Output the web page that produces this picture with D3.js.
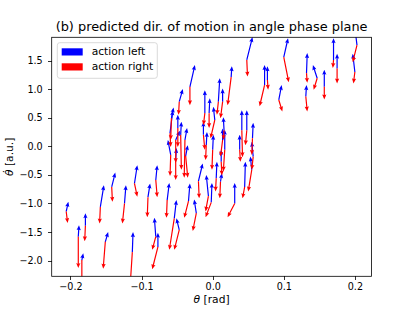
<!DOCTYPE html>
<html>
<head>
<meta charset="utf-8">
<title>predicted dir. of motion</title>
<script src="https://cdn.jsdelivr.net/npm/d3@7"></script>
<style>
  html, body { margin: 0; background: #fff; }
  body { font-family: "DejaVu Sans", sans-serif; }
  .axis path, .axis line { stroke: #000; stroke-width: 0.8; shape-rendering: crispEdges; }
  .axis text { font-size: 9.6px; fill: #000; font-family: "DejaVu Sans", sans-serif; }
</style>
</head>
<body>
<svg width="414" height="311"></svg>
<script>
// state of each sample: angle and angular velocity
var theta = [-0.206,-0.179,-0.189,-0.184,-0.158,-0.142,-0.151,-0.124,-0.110,-0.113,
  -0.091,-0.080,-0.080,-0.077,-0.064,-0.054,-0.047,-0.034,-0.023,-0.020,
  -0.002,-0.006,0.005,0.011,0.031,0.045,0.055,-0.058,-0.060,-0.049,
  -0.052,-0.045,-0.039,-0.059,-0.038,-0.052,-0.032,-0.011,-0.005,0.003,
  0.008,0.014,0.016,-0.013,-0.009,0.014,0.017,0.012,0.000,0.026,
  0.041,0.048,0.056,0.038,0.057,0.048,0.100,0.170,0.203,0.200,
  0.175,0.132,0.147,0.157,0.131,0.093,0.073,0.077,-0.047];
var thetaDot = [-1.14,-1.39,-1.58,-1.99,-1.06,-0.71,-1.67,-1.00,-0.65,-1.85,
  -0.89,-0.59,-1.58,-1.76,-0.94,-1.26,-1.46,-0.96,-1.17,-0.61,
  -0.98,-0.87,-0.56,-0.62,-1.00,-0.71,-0.41,0.49,0.23,0.32,
  0.11,0.20,0.11,-0.15,-0.17,-0.24,1.04,0.58,0.58,0.46,
  0.78,0.78,0.28,0.20,0.02,0.11,-0.06,-0.27,-0.06,1.21,
  0.28,0.28,0.14,-0.06,-0.18,1.51,1.56,1.51,1.77,1.30,
  1.36,1.28,1.19,1.04,0.87,0.81,1.07,1.16,0.78];

// predicted direction for action left
var leftU = [0.003,0,0.001,0.002,0.005,0.005,0.004,0.002,0.004,0.001,
  0.003,0.002,-0.002,0,0.003,0.003,-0.004,0.002,-0.003,0.006,
  0.001,-0.003,0.001,0.002,0,0.001,-0.002,0.003,0.004,0,
  0.006,0.001,0.003,-0.004,0.003,0.001,0.007,0,0.001,-0.002,
  0.002,0,-0.001,0,0.001,0,0,0,0.001,0.001,
  0,0,0.001,0,-0.002,0.008,0.006,0,-0.003,-0.003,
  0,0.001,-0.006,0,0.001,0.004,0,0,0.005];
var leftV = [0.17,0.22,0.20,0.12,0.38,0.25,0.17,0.32,0.32,0.35,
  0.24,0.26,0.33,0.25,0.30,0.32,0.20,0.31,0.24,0.31,
  0.34,0.37,0.29,0.15,0.36,0.44,0.23,0.19,0.40,0.23,
  0.16,0.23,0.21,0.26,0.19,0.21,0.38,0.40,0.26,0.23,
  0.41,0.23,0.23,0.23,0.23,0.20,0.35,0.21,0.26,0.19,
  0.35,0.35,0.27,0.26,0.26,0.40,0.33,0.38,0.30,0.32,
  0.26,0.35,0.23,0.30,0.20,0.26,0.35,0.24,0.22];

// predicted direction for action right
var rightU = [0.002,-0.001,0,0,-0.001,0.001,-0.003,-0.003,0.004,-0.003,
  -0.001,0.002,-0.005,-0.008,-0.001,-0.007,-0.007,-0.006,-0.005,0.001,
  -0.008,-0.004,-0.001,-0.001,-0.010,-0.003,-0.005,-0.001,0.001,0,
  0,0.001,-0.001,-0.001,0.003,0,0,-0.002,0,-0.006,
  -0.002,-0.003,-0.001,0.002,-0.001,-0.003,-0.002,0.001,-0.001,-0.005,
  0.001,-0.002,-0.001,0.001,-0.002,0.001,0.007,-0.001,-0.006,-0.002,
  0,0.001,-0.005,0,0.002,0.005,-0.007,0.001,-0.001];
var rightV = [-0.20,-0.27,-0.55,-0.44,-0.29,-0.26,-0.47,-0.35,-0.23,-0.58,
  -0.35,-0.30,-0.23,-0.39,-0.31,-0.55,-0.35,-0.29,-0.31,-0.30,
  -0.26,-0.27,-0.23,-0.29,-0.24,-0.20,-0.38,-0.38,-0.24,-0.33,
  -0.40,-0.61,-0.66,-0.37,-0.38,-0.35,-0.32,-0.21,-0.26,-0.32,
  -0.23,-0.29,-0.17,-0.26,-0.26,-0.29,-0.38,-0.24,-0.35,-0.49,
  -0.47,-0.26,-0.29,-0.21,-0.23,-0.29,-0.44,-0.14,-0.30,-0.20,
  -0.26,-0.17,-0.20,-0.22,-0.26,-0.20,-0.37,-0.17,-0.23];

var xTicks = [-0.2, -0.1, 0.0, 0.1, 0.2];
var yTicks = [-2.0, -1.5, -1.0, -0.5, 0.0, 0.5, 1.0, 1.5];
var seriesNames = ["action left", "action right"];
var seriesColors = ["#0000ff", "#ff0000"];

var svg = d3.select("svg"),
    margin = {top: 37.3, right: 42.5, bottom: 34.7, left: 51.7},
    width = +svg.attr("width") - margin.left - margin.right,
    height = +svg.attr("height") - margin.top - margin.bottom;

var x = d3.scaleLinear().domain([-0.2264, 0.2234]).range([0, width]),
    y = d3.scaleLinear().domain([-2.273, 1.906]).range([height, 0]);

var g = svg.append("g")
    .attr("transform", "translate(" + margin.left + "," + margin.top + ")");

g.append("clipPath").attr("id", "plotclip")
  .append("rect").attr("width", width).attr("height", height);

// quiver style arrow as a filled polygon
function arrowPath(x0, y0, x1, y1) {
  var dx = x1 - x0, dy = y1 - y0;
  var L = Math.sqrt(dx * dx + dy * dy);
  if (L < 0.01) return "";
  var ux = dx / L, uy = dy / L, nx = -uy, ny = ux;
  var w = 0.6, hw = 2.1, hl = 5, ha = 4.4;
  var s = 1;
  if (L < hl) s = L / hl;
  hl *= s; ha *= s; hw *= s;
  var pts = [
    [x0 + nx * w, y0 + ny * w],
    [x0 + ux * (L - ha) + nx * w, y0 + uy * (L - ha) + ny * w],
    [x0 + ux * (L - hl) + nx * hw, y0 + uy * (L - hl) + ny * hw],
    [x1, y1],
    [x0 + ux * (L - hl) - nx * hw, y0 + uy * (L - hl) - ny * hw],
    [x0 + ux * (L - ha) - nx * w, y0 + uy * (L - ha) - ny * w],
    [x0 - nx * w, y0 - ny * w]
  ];
  return "M" + pts.map(function(p) { return p[0].toFixed(2) + "," + p[1].toFixed(2); }).join("L") + "Z";
}

var idx = d3.range(theta.length);
var arrows = g.append("g").attr("clip-path", "url(#plotclip)");

arrows.selectAll(".left").data(idx).enter().append("path")
  .attr("class", "left")
  .attr("fill", seriesColors[0])
  .attr("d", function(i) {
    return arrowPath(x(theta[i]), y(thetaDot[i]), x(theta[i] + leftU[i]), y(thetaDot[i] + leftV[i]));
  });

arrows.selectAll(".right").data(idx).enter().append("path")
  .attr("class", "right")
  .attr("fill", seriesColors[1])
  .attr("d", function(i) {
    return arrowPath(x(theta[i]), y(thetaDot[i]), x(theta[i] + rightU[i]), y(thetaDot[i] + rightV[i]));
  });

// axes
g.append("g")
  .attr("class", "axis")
  .attr("transform", "translate(0," + height + ")")
  .call(d3.axisBottom(x).tickValues(xTicks).tickFormat(d3.format(".1f")).tickSize(3.5).tickPadding(3.5))
  .call(function(a) { a.select(".domain").remove(); });

g.append("g")
  .attr("class", "axis")
  .call(d3.axisLeft(y).tickValues(yTicks).tickFormat(d3.format(".1f")).tickSize(3.5).tickPadding(5.5))
  .call(function(a) { a.select(".domain").remove(); });

g.append("rect")
  .attr("width", width).attr("height", height)
  .attr("fill", "none").attr("stroke", "#000").attr("stroke-width", 0.8);

// legend
var legend = g.append("g").attr("transform", "translate(5.6,5.4)");
legend.append("rect")
  .attr("width", 100).attr("height", 35.6)
  .attr("rx", 2.5)
  .attr("fill", "#fff").attr("fill-opacity", 0.8)
  .attr("stroke", "#d0d0d0").attr("stroke-width", 0.8);

legend.selectAll(".swatch").data(seriesNames).enter().append("rect")
  .attr("class", "swatch")
  .attr("x", 4.4)
  .attr("y", function(d, i) { return 5.6 + i * 15; })
  .attr("width", 21).attr("height", 7.2)
  .attr("fill", function(d, i) { return seriesColors[i]; });

legend.selectAll(".ltext").data(seriesNames).enter().append("text")
  .attr("class", "ltext")
  .attr("x", 34.4)
  .attr("y", function(d, i) { return 12.8 + i * 15; })
  .attr("font-size", "10.7px")
  .text(function(d) { return d; });

// title and labels
svg.append("text")
  .attr("x", margin.left + width / 2).attr("y", 31)
  .attr("text-anchor", "middle")
  .attr("font-size", "12.9px")
  .text("(b) predicted dir. of motion in angle phase plane");

var xl = svg.append("text")
  .attr("x", margin.left + width / 2).attr("y", 303)
  .attr("text-anchor", "middle")
  .attr("font-size", "10.7px");
xl.append("tspan").attr("font-style", "italic").text("\u03b8");
xl.append("tspan").text(" [rad]");

var yl = svg.append("text")
  .attr("transform", "translate(13," + (margin.top + height / 2) + ") rotate(-90)")
  .attr("text-anchor", "middle")
  .attr("font-size", "10.7px");
yl.append("tspan").attr("font-style", "italic").text("\u03b8\u0307");
yl.append("tspan").text(" [a.u.]");
</script>
</body>
</html>
